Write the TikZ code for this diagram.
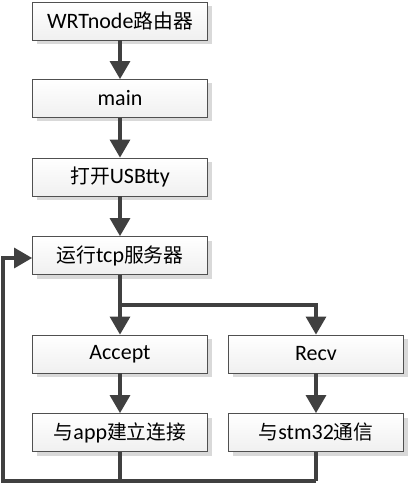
\documentclass[tikz,border=0pt]{standalone}
\usepackage{fontspec}
\setmainfont{Carlito}
\newfontfamily\cjk{Noto Sans CJK SC}[Scale=0.9]
\usetikzlibrary{arrows.meta,shadows}
\definecolor{linec}{HTML}{404040}
\definecolor{edgec}{HTML}{505050}
\tikzset{
  box/.style={draw=edgec, line width=0.8pt, minimum width=175pt, minimum height=38pt,
    inner sep=0pt, top color=white, bottom color=gray!12,
    drop shadow={shadow xshift=4pt, shadow yshift=-4pt, fill=gray!30, opacity=1},
    font=\fontsize{22}{26}\selectfont, text=black},
  conn/.style={draw=linec, line width=3.2pt},
  arr/.style={conn, -{Triangle[width=20pt,length=18pt]}},
}
\begin{document}
\begin{tikzpicture}[x=1pt,y=-1pt]
\useasboundingbox (0,0) rectangle (409,484);
\node[box] (b1) at (120,21) {WRTnode{\cjk 路由器}};
\node[box] (b2) at (120,98.5) {main};
\node[box] (b3) at (120,177) {{\cjk 打开}USBtty};
\node[box] (b4) at (120,255.5) {{\cjk 运行}tcp{\cjk 服务器}};
\node[box] (acc) at (120,354) {Accept};
\node[box] (rec) at (316,354) {Recv};
\node[box] (app) at (120,432.5) {{\cjk 与}app{\cjk 建立连接}};
\node[box] (stm) at (316,432.5) {{\cjk 与}stm32{\cjk 通信}};
\coordinate (split) at (120,305);
\coordinate (bl) at (120,481);
\coordinate (br) at (316,481);
\coordinate (cl) at (3,481);
\coordinate (tl) at (3,258);
\draw[arr] (b1) -- (b2);
\draw[arr] (b2) -- (b3);
\draw[arr] (b3) -- (b4);
\draw[arr] (b4.south) -- (acc.north);
\draw[arr] (split) -| (rec.north);
\draw[arr] (acc) -- (app);
\draw[arr] (rec) -- (stm);
\draw[conn, line join=miter] (app.south) -- (bl);
\draw[conn] (stm.south) -- (br);
\draw[arr, line join=miter] (br) -- (cl) -- (tl) -- (tl -| b4.west);
\end{tikzpicture}
\end{document}
